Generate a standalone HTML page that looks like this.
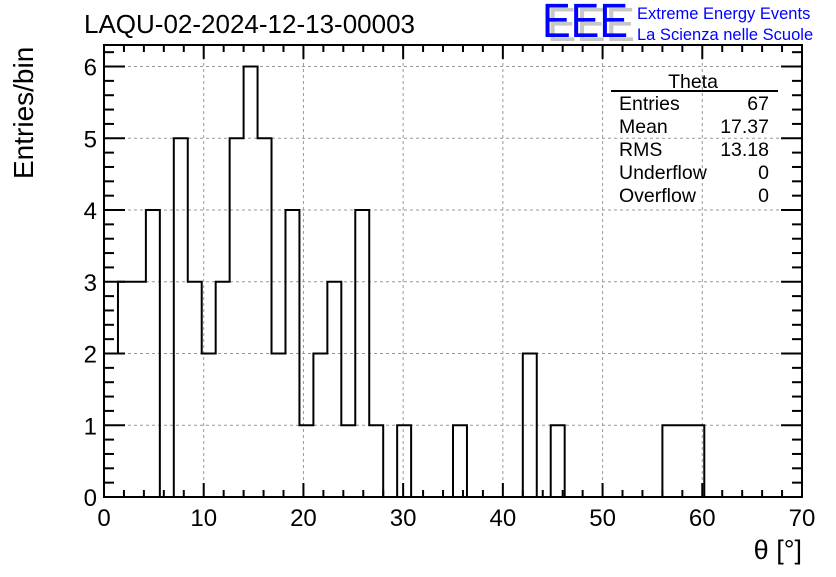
<!DOCTYPE html>
<html><head><meta charset="utf-8"><style>
body{margin:0;background:#fff;}
svg text{font-family:"Liberation Sans",sans-serif;}
</style></head><body>
<svg id="c" width="836" height="572" viewBox="0 0 836 572">
<rect width="836" height="572" fill="#fff"/>
<g id="grid"></g>
<g id="ticks"></g>
<path id="hist" fill="none" stroke="#000" stroke-width="2"/>
<rect x="104" y="45" width="698" height="452" fill="none" stroke="#000" stroke-width="2"/>
<g id="labels" font-size="24"></g>
<text x="84" y="33" font-size="26">LAQU-02-2024-12-13-00003</text>
<text x="802" y="559" font-size="27" text-anchor="end">θ [°]</text>
<text transform="translate(33,179) rotate(-90)" font-size="28">Entries/bin</text>
<g>
<text x="547" y="41" font-size="48" fill="#c8c8c8" textLength="88" lengthAdjust="spacingAndGlyphs">EEE</text>
<text x="542" y="37" font-size="48" fill="#0000ff" textLength="86" lengthAdjust="spacingAndGlyphs">EEE</text>
<text x="637" y="19" font-size="16.5" fill="#0000ff">Extreme Energy Events</text>
<text x="637" y="40" font-size="16.5" fill="#0000ff">La Scienza nelle Scuole</text>
</g>
<g font-size="19.5">
<text x="693" y="88" text-anchor="middle">Theta</text>
<line x1="611" y1="91" x2="778" y2="91" stroke="#000" stroke-width="2"/>
<text x="619" y="110">Entries</text><text x="769" y="110" text-anchor="end">67</text>
<text x="619" y="133">Mean</text><text x="769" y="133" text-anchor="end">17.37</text>
<text x="619" y="156">RMS</text><text x="769" y="156" text-anchor="end">13.18</text>
<text x="619" y="179">Underflow</text><text x="769" y="179" text-anchor="end">0</text>
<text x="619" y="202">Overflow</text><text x="769" y="202" text-anchor="end">0</text>
</g>
</svg>
<script>
const binWidth = 1.4;
const firstBin = 1;
const counts = [3,3,4,0,5,3,2,3,5,6,5,2,4,1,2,3,1,4,1,0,1,0,0,0,1,0,0,0,0,2,0,1,0,0,0,0,0,0,0,1,1,1];
const xTickLabels = ["0","10","20","30","40","50","60","70"];
const yTickLabels = ["0","1","2","3","4","5","6"];
const X0=104,X1=802,Y0=497,Y1=45;
const xMax=70, yMax=6.3;
const sx=v=>X0+(v/xMax)*(X1-X0);
const sy=v=>Y0-(v/yMax)*(Y0-Y1);
const NS="http://www.w3.org/2000/svg";
function mk(t,a,p){const e=document.createElementNS(NS,t);for(const k in a)e.setAttribute(k,a[k]);p.appendChild(e);return e;}
const grid=document.getElementById('grid'),ticks=document.getElementById('ticks'),labels=document.getElementById('labels');
xTickLabels.forEach(l=>{const v=+l,x=sx(v);
 if(v>0&&v<xMax){const g=mk('line',{x1:x,x2:x,y1:Y1,y2:Y0,stroke:'#999','stroke-dasharray':'3,3','stroke-width':1},grid);
 }
 const t=mk('text',{x:x,y:Y0+29,'text-anchor':'middle'},labels);t.textContent=l;
 
});
for(let v=0;v<=xMax+1e-9;v+=2){const x=sx(v);const maj=Math.abs(v/10-Math.round(v/10))<1e-6;const len=maj?14:7;
 mk('line',{x1:x,x2:x,y1:Y0,y2:Y0-len,stroke:'#000','stroke-width':2},ticks);
 mk('line',{x1:x,x2:x,y1:Y1,y2:Y1+len,stroke:'#000','stroke-width':2},ticks);}
yTickLabels.forEach(l=>{const v=+l,y=sy(v);
 if(v>0){const g=mk('line',{x1:X0,x2:X1,y1:y,y2:y,stroke:'#999','stroke-dasharray':'3,3','stroke-width':1},grid);
 }
 const t=mk('text',{x:X0-7,y:y+9,'text-anchor':'end'},labels);t.textContent=l;
 
});
for(let i=0;i<=31;i++){const v=i*0.2;if(v>yMax)break;const y=sy(v);const maj=i%5===0;const len=maj?21:10;
 mk('line',{x1:X0,x2:X0+len,y1:y,y2:y,stroke:'#000','stroke-width':2},ticks);
 mk('line',{x1:X1,x2:X1-len,y1:y,y2:y,stroke:'#000','stroke-width':2},ticks);}
let d='',prev=null;
counts.forEach((c,i)=>{const xl=sx((firstBin+i)*binWidth),xr=sx((firstBin+i+1)*binWidth),y=sy(c);
 if(prev===null) d+=`M${xl},${sy(c-1)}L${xl},${y}`; else d+=`L${xl},${y}`;
 d+=`L${xr},${y}`;prev=c;});
d+=`L${sx((firstBin+counts.length)*binWidth)},${sy(0)}`;
document.getElementById('hist').setAttribute('d',d);
</script>
</body></html>
